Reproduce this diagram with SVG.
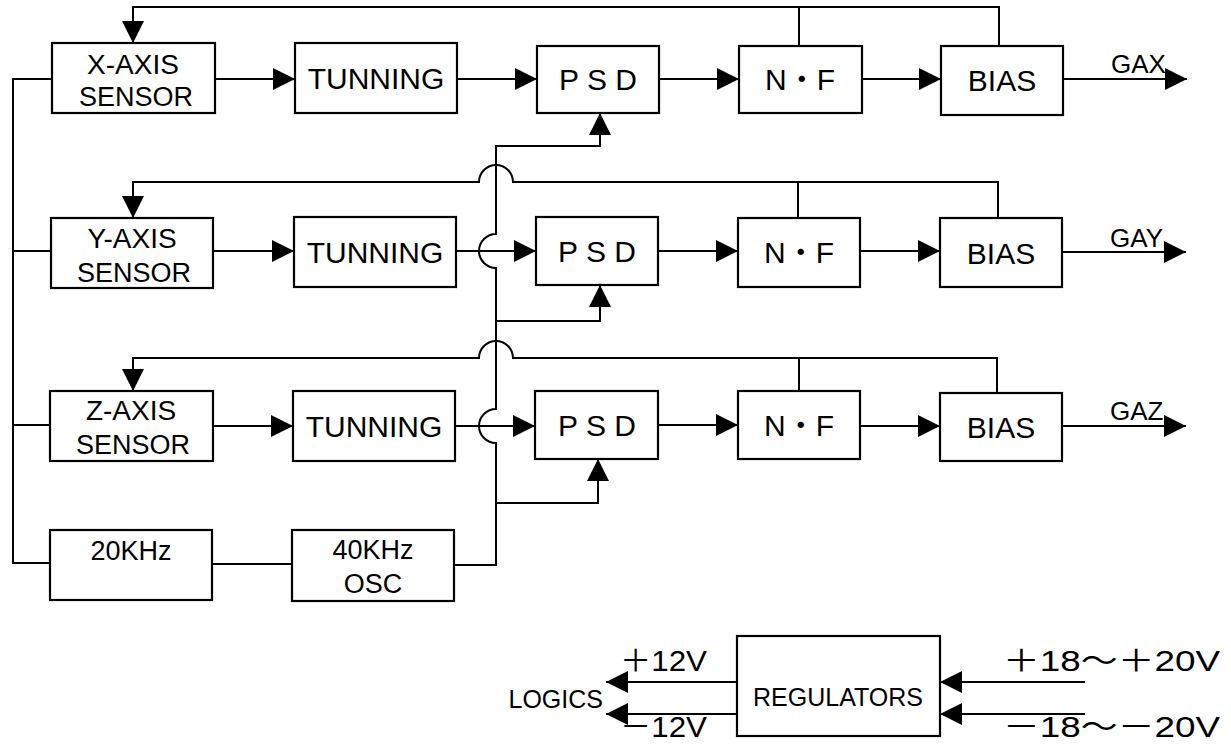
<svg xmlns="http://www.w3.org/2000/svg" width="1231" height="744" viewBox="0 0 1231 744">
<defs>
<marker id="ah" viewBox="0 0 22 22" refX="22" refY="11" markerWidth="22" markerHeight="22" markerUnits="userSpaceOnUse" orient="auto">
<path d="M0,0 L22,11 L0,22 Z" fill="#000"/>
</marker>
</defs>
<style>
.box{fill:#fff;stroke:#000;stroke-width:2.2}
.ln{fill:none;stroke:#000;stroke-width:2}
.ar{fill:none;stroke:#000;stroke-width:2;marker-end:url(#ah)}
text{font-family:"Liberation Sans","Noto Sans CJK JP",sans-serif;fill:#000;text-anchor:middle}
.t27{font-size:27px}
.t28{font-size:28px}
.t30{font-size:30px}
.t26{font-size:26px}
.t25{font-size:25px}
.st{text-anchor:start}
.en{text-anchor:end}
</style>
<rect width="1231" height="744" fill="#fff"/>

<g id="connectors">
<path class="ln" d="M52,79 H13 V563 H50"/>
<path class="ln" d="M13,251 H51"/>
<path class="ln" d="M13,425 H50"/>
<path class="ar" d="M215,79 H295"/>
<path class="ar" d="M457,79 H537"/>
<path class="ar" d="M659,79 H739"/>
<path class="ar" d="M862,79 H941"/>
<path class="ar" d="M1063,79 H1187"/>
<path class="ar" d="M999,46 V7 H133 V43"/>
<path class="ln" d="M799,46 V7"/>
<path class="ar" d="M213,251 H294"/>
<path class="ar" d="M456,251 H536"/>
<path class="ar" d="M658,251 H738"/>
<path class="ar" d="M860,251 H940"/>
<path class="ar" d="M1062,252 H1186"/>
<path class="ar" d="M998,218 V182 H513 A17,17 0 0 0 479,182 H133 V218"/>
<path class="ln" d="M798,218 V182"/>
<path class="ar" d="M213,426 H293"/>
<path class="ar" d="M455,426 H535"/>
<path class="ar" d="M658,425 H738"/>
<path class="ar" d="M860,426 H940"/>
<path class="ar" d="M1062,426 H1186"/>
<path class="ar" d="M997,393 V358 H513 A17,17 0 0 0 479,358 H133 V391"/>
<path class="ln" d="M799,358 V391"/>
<path class="ln" d="M212,564 H292"/>
<path class="ar" d="M454,565 H496 V443 A17,17 0 0 1 496,409 V268 A17,17 0 0 1 496,234 V146 H600 V113"/>
<path class="ar" d="M496,321 H600 V285"/>
<path class="ar" d="M496,503 H598 V459"/>
<path class="ar" d="M737,682 H606"/>
<path class="ar" d="M737,714 H606"/>
<path class="ar" d="M1085,682 H940"/>
<path class="ar" d="M1085,714 H940"/>
</g>

<g id="x-sensor"><rect class="box" x="52" y="43" width="163" height="70"/><text class="t28" x="133" y="74">X-AXIS</text><text class="t27" x="136" y="106">SENSOR</text></g>
<g id="x-tunning"><rect class="box" x="295" y="43" width="162" height="70"/><text class="t30" x="376" y="89">TUNNING</text></g>
<g id="x-psd"><rect class="box" x="537" y="46" width="122" height="67"/><text class="t30" x="598" y="90">P S D</text></g>
<g id="x-nf"><rect class="box" x="739" y="46" width="123" height="67"/><text class="t30" x="800" y="90">N・F</text></g>
<g id="x-bias"><rect class="box" x="941" y="46" width="122" height="69"/><text class="t30" x="1002" y="91">BIAS</text></g>
<g id="gax"><text class="t26 st" x="1111" y="73">GAX</text></g>

<g id="y-sensor"><rect class="box" x="51" y="218" width="162" height="70"/><text class="t28" x="132" y="248">Y-AXIS</text><text class="t27" x="134" y="282">SENSOR</text></g>
<g id="y-tunning"><rect class="box" x="294" y="217" width="162" height="70"/><text class="t30" x="375" y="263">TUNNING</text></g>
<g id="y-psd"><rect class="box" x="536" y="217" width="122" height="68"/><text class="t30" x="597" y="262">P S D</text></g>
<g id="y-nf"><rect class="box" x="738" y="218" width="122" height="69"/><text class="t30" x="799" y="263">N・F</text></g>
<g id="y-bias"><rect class="box" x="940" y="218" width="122" height="69"/><text class="t30" x="1001" y="264">BIAS</text></g>
<g id="gay"><text class="t26 st" x="1110" y="247">GAY</text></g>

<g id="z-sensor"><rect class="box" x="50" y="391" width="163" height="70"/><text class="t28" x="131" y="420">Z-AXIS</text><text class="t27" x="133" y="454">SENSOR</text></g>
<g id="z-tunning"><rect class="box" x="293" y="391" width="162" height="70"/><text class="t30" x="374" y="437">TUNNING</text></g>
<g id="z-psd"><rect class="box" x="535" y="391" width="123" height="68"/><text class="t30" x="597" y="436">P S D</text></g>
<g id="z-nf"><rect class="box" x="738" y="391" width="122" height="68"/><text class="t30" x="799" y="436">N・F</text></g>
<g id="z-bias"><rect class="box" x="940" y="393" width="122" height="68"/><text class="t30" x="1001" y="438">BIAS</text></g>
<g id="gaz"><text class="t26 st" x="1110" y="420">GAZ</text></g>

<g id="osc20"><rect class="box" x="50" y="530" width="162" height="70"/><text class="t27" x="131" y="560">20KHz</text></g>
<g id="osc40"><rect class="box" x="292" y="530" width="162" height="71"/><text class="t27" x="373" y="559">40KHz</text><text class="t27" x="373" y="593">OSC</text></g>

<g id="regulators"><rect class="box" x="737" y="636" width="203" height="100"/><text class="t25" x="838" y="706">REGULATORS</text></g>
<g id="logics"><text class="t25 en" x="603" y="708">LOGICS</text></g>
<g id="labels">
<text class="t30 st" x="620" y="671" textLength="87" lengthAdjust="spacingAndGlyphs">＋12V</text>
<text class="t30 st" x="620" y="737" textLength="87" lengthAdjust="spacingAndGlyphs">－12V</text>
<text class="t30 st" x="1003" y="671" textLength="217" lengthAdjust="spacingAndGlyphs">＋18～＋20V</text>
<text class="t30 st" x="1003" y="737" textLength="217" lengthAdjust="spacingAndGlyphs">－18～－20V</text>
</g>
</svg>
